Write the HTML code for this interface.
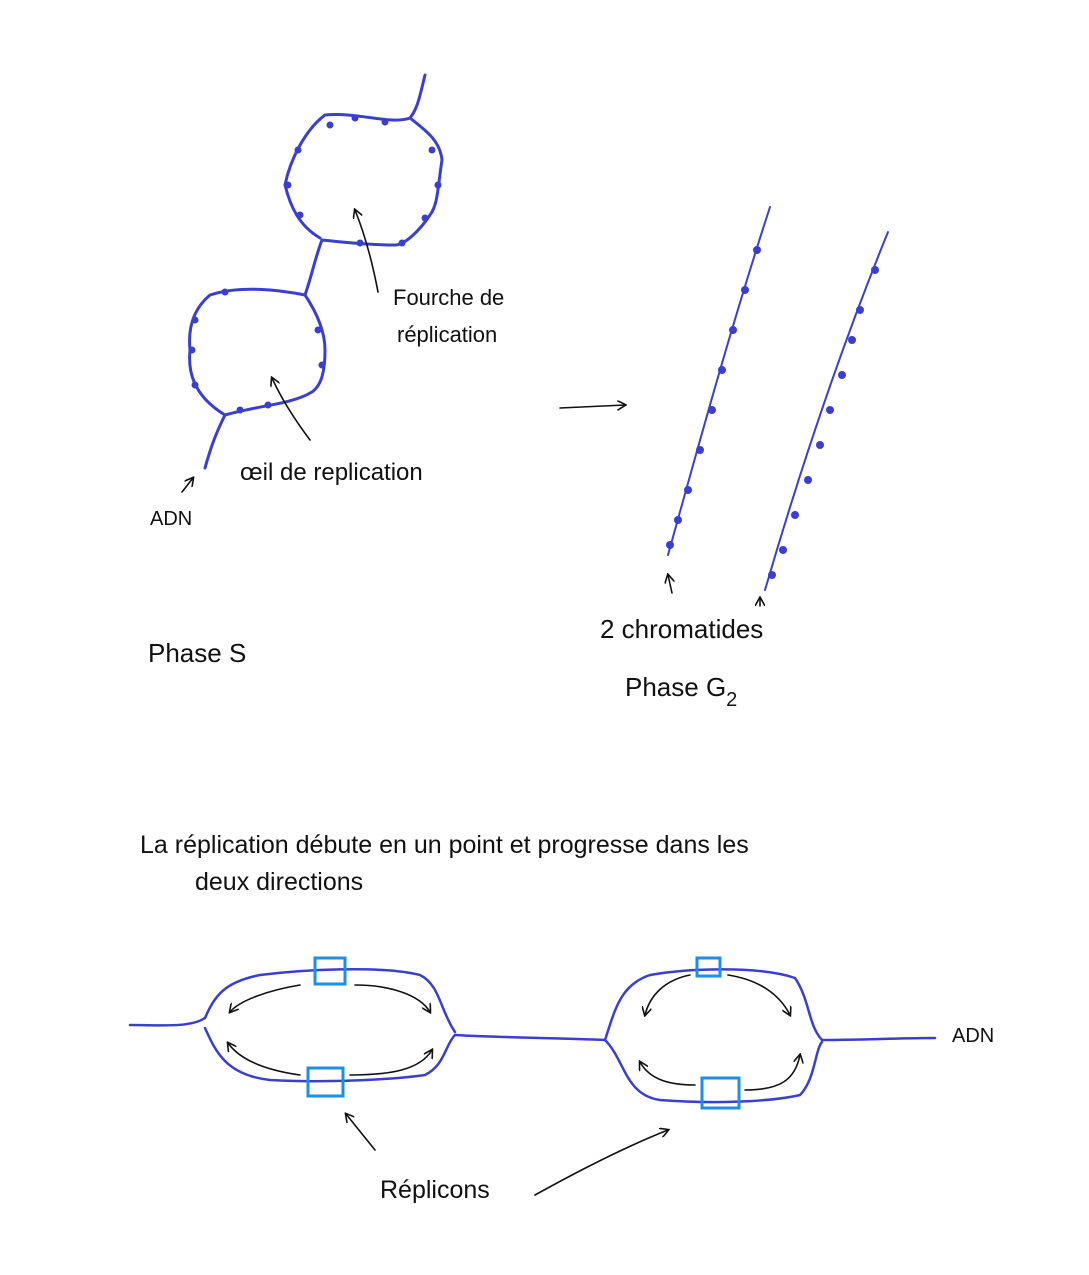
<!DOCTYPE html>
<html><head><meta charset="utf-8"><style>
html,body{margin:0;padding:0;background:#fff}
svg{display:block}
text{font-family:"Liberation Sans",sans-serif;fill:#111}
</style></head><body>
<svg width="1089" height="1275" viewBox="0 0 1089 1275" xmlns="http://www.w3.org/2000/svg">
<defs>
<marker id="a" markerWidth="10" markerHeight="10" refX="8" refY="5" orient="auto" markerUnits="userSpaceOnUse"><path d="M0,0 L9,5 L0,10" fill="none" stroke="#111" stroke-width="1.6"/></marker>
</defs>
<g fill="none" stroke="#3a3fd0" stroke-width="3" stroke-linecap="round" stroke-linejoin="round">
<!-- top structure -->
<path d="M425,75 C420,95 418,108 410,118"/>
<path d="M410,118 C390,125 360,112 325,115 C305,130 290,160 285,185 C290,205 298,225 320,238"/>
<path d="M410,118 C425,130 440,140 442,160 C438,185 438,205 430,215 C420,230 405,245 395,245 C370,245 340,242 322,240"/>
<path d="M322,240 C315,258 312,275 305,295"/>
<path d="M305,295 C280,290 240,285 210,295 C192,310 188,330 190,350 C188,370 192,395 225,415"/>
<path d="M305,295 C315,310 325,330 325,350 C325,370 322,385 312,392 C290,405 260,405 225,415"/>
<path d="M225,415 C215,435 210,450 205,468"/>
<!-- chromatids -->
<path d="M770,207 C730,330 700,440 668,555" stroke-width="2"/>
<path d="M888,232 C840,350 800,470 765,590" stroke-width="2"/>
</g>
<g fill="#3a3fd0">
<circle cx="757" cy="250" r="4"/><circle cx="745" cy="290" r="4"/><circle cx="733" cy="330" r="4"/><circle cx="722" cy="370" r="4"/><circle cx="712" cy="410" r="4"/><circle cx="700" cy="450" r="4"/><circle cx="688" cy="490" r="4"/><circle cx="678" cy="520" r="4"/><circle cx="670" cy="545" r="4"/>
<circle cx="875" cy="270" r="4"/><circle cx="860" cy="310" r="4"/><circle cx="852" cy="340" r="4"/><circle cx="842" cy="375" r="4"/><circle cx="830" cy="410" r="4"/><circle cx="820" cy="445" r="4"/><circle cx="808" cy="480" r="4"/><circle cx="795" cy="515" r="4"/><circle cx="783" cy="550" r="4"/><circle cx="772" cy="575" r="4"/>
<circle cx="330" cy="125" r="3.5"/><circle cx="355" cy="118" r="3.5"/><circle cx="385" cy="122" r="3.5"/><circle cx="298" cy="150" r="3.5"/><circle cx="288" cy="185" r="3.5"/><circle cx="300" cy="215" r="3.5"/><circle cx="432" cy="150" r="3.5"/><circle cx="438" cy="185" r="3.5"/><circle cx="425" cy="218" r="3.5"/><circle cx="402" cy="243" r="3.5"/><circle cx="360" cy="243" r="3.5"/>
<circle cx="225" cy="292" r="3.5"/><circle cx="195" cy="320" r="3.5"/><circle cx="192" cy="350" r="3.5"/><circle cx="195" cy="385" r="3.5"/><circle cx="318" cy="330" r="3.5"/><circle cx="322" cy="365" r="3.5"/><circle cx="268" cy="405" r="3.5"/><circle cx="240" cy="410" r="3.5"/>
</g>
<!-- bottom replicons -->
<g fill="none" stroke="#3a3fd0" stroke-width="2.5" stroke-linecap="round">
<path d="M130,1025 C160,1025 190,1028 205,1018 C215,995 225,982 260,975 C300,970 380,965 420,975 C440,985 440,1010 455,1032"/>
<path d="M205,1028 C215,1050 225,1075 270,1080 C320,1083 390,1080 425,1075 C445,1065 445,1045 455,1035"/>
<path d="M455,1035 C510,1038 560,1038 605,1040"/>
<path d="M605,1040 C615,1010 620,985 650,975 C690,968 760,966 795,978 C810,1000 808,1025 822,1040"/>
<path d="M605,1040 C625,1060 625,1095 660,1100 C710,1104 770,1102 800,1095 C815,1080 815,1050 822,1042"/>
<path d="M822,1040 C860,1040 900,1038 935,1038"/>
</g>
<g fill="none" stroke="#1e8fe6" stroke-width="3">
<rect x="315" y="958" width="30" height="26"/><rect x="308" y="1068" width="35" height="28"/><rect x="697" y="958" width="23" height="18"/><rect x="702" y="1078" width="37" height="30"/>
</g>
<g fill="none" stroke="#111" stroke-width="1.6" stroke-linecap="round">
<path d="M378,292 C372,260 365,235 355,210" marker-end="url(#a)"/>
<path d="M310,440 C295,420 282,400 272,378" marker-end="url(#a)"/>
<path d="M182,492 L193,478" marker-end="url(#a)"/>
<path d="M560,408 L625,405" marker-end="url(#a)"/>
<path d="M672,593 L668,575" marker-end="url(#a)"/>
<path d="M760,606 L760,598" marker-end="url(#a)"/>
<path d="M300,985 C270,990 240,1000 230,1012" marker-end="url(#a)"/>
<path d="M355,985 C390,985 420,995 430,1012" marker-end="url(#a)"/>
<path d="M300,1075 C265,1070 240,1060 228,1043" marker-end="url(#a)"/>
<path d="M350,1075 C390,1075 420,1070 432,1050" marker-end="url(#a)"/>
<path d="M690,975 C665,980 650,995 645,1015" marker-end="url(#a)"/>
<path d="M728,975 C760,980 780,995 790,1015" marker-end="url(#a)"/>
<path d="M695,1085 C670,1085 650,1080 640,1062" marker-end="url(#a)"/>
<path d="M745,1090 C780,1090 795,1080 800,1055" marker-end="url(#a)"/>
<path d="M375,1150 L346,1114" marker-end="url(#a)"/>
<path d="M535,1195 C580,1170 630,1145 668,1130" marker-end="url(#a)"/>
</g>
<text x="393" y="305" font-size="22">Fourche de</text>
<text x="397" y="342" font-size="22">réplication</text>
<text x="240" y="480" font-size="24">œil de replication</text>
<text x="150" y="525" font-size="20">ADN</text>
<text x="148" y="662" font-size="26">Phase S</text>
<text x="600" y="638" font-size="26">2 chromatides</text>
<text x="625" y="696" font-size="26">Phase G<tspan font-size="20" dy="10">2</tspan></text>
<text x="140" y="853" font-size="25">La réplication débute en un point et progresse dans les</text>
<text x="195" y="890" font-size="25">deux directions</text>
<text x="952" y="1042" font-size="20">ADN</text>
<text x="380" y="1198" font-size="25">Réplicons</text>
</svg>
</body></html>
